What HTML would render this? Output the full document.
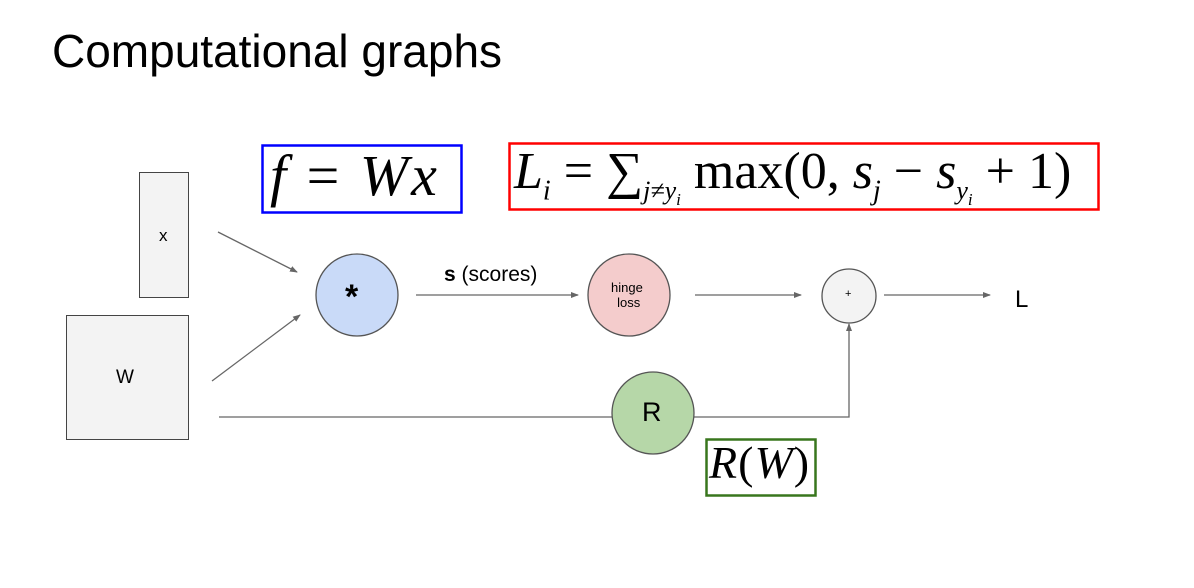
<!DOCTYPE html>
<html><head><style>
body{margin:0;width:1194px;height:588px;background:#fff;overflow:hidden;font-family:"Liberation Sans",sans-serif;position:relative}
.t{position:absolute;white-space:nowrap}
.m{font-family:"Liberation Serif",serif;font-style:italic}
</style></head><body>
<div class="t" style="left:52px;top:24px;font-size:46px;color:#000">Computational graphs</div>
<svg width="1194" height="588" style="position:absolute;left:0;top:0">
<defs><marker id="a" markerWidth="8" markerHeight="8" refX="7" refY="4" orient="auto" markerUnits="userSpaceOnUse"><path d="M0,1 L8,4 L0,7z" fill="#666"/></marker></defs>
<rect x="139.5" y="172.5" width="49" height="125" fill="#f3f3f3" stroke="#444"/>
<rect x="66.5" y="315.5" width="122" height="124" fill="#f3f3f3" stroke="#444"/>
<g stroke="#666" stroke-width="1.3" fill="none">
<line x1="218" y1="232" x2="297" y2="272" marker-end="url(#a)"/>
<line x1="212" y1="381" x2="300" y2="315" marker-end="url(#a)"/>
<line x1="416" y1="295" x2="578" y2="295" marker-end="url(#a)"/>
<line x1="695" y1="295" x2="801" y2="295" marker-end="url(#a)"/>
<line x1="884" y1="295" x2="990" y2="295" marker-end="url(#a)"/>
<polyline points="219,417 612,417"/>
<polyline points="694,417 849,417 849,324" marker-end="url(#a)"/>
</g>
<circle cx="357" cy="295" r="41" fill="#c9daf8" stroke="#555" stroke-width="1.3"/>
<circle cx="629" cy="295" r="41" fill="#f4cccc" stroke="#555" stroke-width="1.3"/>
<circle cx="849" cy="296" r="27" fill="#f3f3f3" stroke="#555" stroke-width="1.3"/>
<circle cx="653" cy="413" r="41" fill="#b6d7a8" stroke="#555" stroke-width="1.3"/>
<rect x="262.5" y="145.5" width="199" height="67" fill="none" stroke="#00f" stroke-width="2.5"/>
<rect x="509.5" y="143.5" width="589" height="66" fill="none" stroke="#f00" stroke-width="2.5"/>
<rect x="706.5" y="439.5" width="109" height="56" fill="none" stroke="#38761d" stroke-width="2.5"/>
</svg>
<div class="t" style="left:159px;top:226px;font-size:17px">x</div>
<div class="t" style="left:116px;top:367px;font-size:19px">W</div>
<div class="t" style="left:345px;top:278px;font-size:34px;font-weight:bold">*</div>
<div class="t" style="left:444px;top:263px;font-size:21px"><b>s</b> (scores)</div>
<div class="t" style="left:611px;top:280px;font-size:13px;text-align:center;line-height:15px">hinge<br>&nbsp;loss</div>
<div class="t" style="left:845px;top:288px;font-size:11px">+</div>
<div class="t" style="left:1015px;top:286px;font-size:24px">L</div>
<div class="t" style="left:642px;top:397px;font-size:27px">R</div>
<div class="t m" style="left:270px;top:142px;font-size:58px;letter-spacing:3px">f <span style="font-style:normal">=</span> Wx</div>
<div class="t m" style="left:514px;top:142px;font-size:52px">L<sub style="font-size:28px">i</sub> <span style="font-style:normal">= ∑</span><sub style="font-size:26px">j≠y<sub style="font-size:17px">i</sub></sub> <span style="font-style:normal">max(0,</span> s<sub style="font-size:28px">j</sub> <span style="font-style:normal">−</span> s<sub style="font-size:26px">y<sub style="font-size:17px">i</sub></sub> <span style="font-style:normal">+ 1)</span></div>
<div class="t m" style="left:709px;top:436px;font-size:46px;letter-spacing:1px">R<span style="font-style:normal">(</span>W<span style="font-style:normal">)</span></div>
</body></html>
